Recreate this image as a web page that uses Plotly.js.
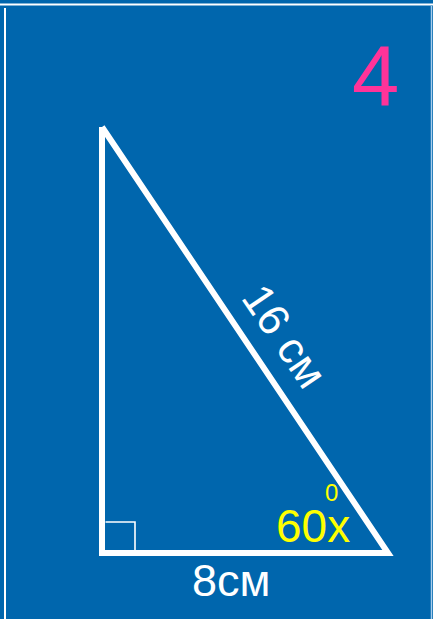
<!DOCTYPE html>
<html>
<head>
<meta charset="utf-8">
<script src="https://cdn.plot.ly/plotly-3.0.1.min.js"></script>
<style>
html,body{margin:0;padding:0;background:#0066AD;overflow:hidden}
#chart{width:433px;height:619px}
#chart path.js-line{stroke-linejoin:miter !important;stroke-miterlimit:10 !important}
</style>
</head>
<body>
<div id="chart"></div>
<script>
// Figure data (picture coordinates, y grows downward)
const triangleX = [102, 102, 388, 102];
const triangleY = [127, 553, 553, 127];
const rightAngleX = [105.5, 135, 135];
const rightAngleY = [522, 522, 550];
const labels = ["4", "16 см", "8см", "60x", "0"];
const labelX = [375, 285, 231, 313, 331];
const labelY = [75, 335, 580, 526, 492];

const traces = [
  {x: triangleX, y: triangleY, mode: 'lines', line: {color: '#ffffff', width: 6}, hoverinfo: 'skip'},
  {x: rightAngleX, y: rightAngleY, mode: 'lines', line: {color: '#ffffff', width: 1.6}, hoverinfo: 'skip'}
];

const fontFam = 'Liberation Sans, Arial, sans-serif';
const styles = [
  {size: 85, color: '#FF3399', angle: 0},
  {size: 44, color: '#ffffff', angle: 55.8},
  {size: 45, color: '#ffffff', angle: 0},
  {size: 46, color: '#FFFF00', angle: 0},
  {size: 24, color: '#FFFF00', angle: 0}
];
const annotations = labels.map((t, i) => ({
  text: t, x: labelX[i], y: labelY[i], xref: 'x', yref: 'y',
  showarrow: false, xanchor: 'center', yanchor: 'middle',
  textangle: styles[i].angle,
  font: {family: fontFam, size: styles[i].size, color: styles[i].color}
}));

const layout = {
  width: 433, height: 619,
  margin: {l: 0, r: 0, t: 0, b: 0},
  paper_bgcolor: '#0066AD', plot_bgcolor: '#0066AD',
  showlegend: false,
  xaxis: {range: [0, 433], visible: false, fixedrange: true},
  yaxis: {range: [619, 0], visible: false, fixedrange: true},
  annotations: annotations,
  shapes: [
    {type: 'line', xref: 'x', yref: 'y', x0: 0, x1: 433, y0: 4.5, y1: 4.5, line: {color: '#ffffff', width: 2}},
    {type: 'line', xref: 'x', yref: 'y', x0: 5, x1: 5, y0: 8, y1: 619, line: {color: '#ffffff', width: 2}},
    {type: 'line', xref: 'x', yref: 'y', x0: 431.5, x1: 431.5, y0: 6, y1: 619, line: {color: '#a8cdec', width: 1.5}}
  ]
};

Plotly.newPlot('chart', traces, layout, {staticPlot: true, displayModeBar: false}).then(function () {
  document.querySelectorAll('#chart path.js-line').forEach(function (p) {
    p.style.strokeLinejoin = 'miter';
    p.style.strokeMiterlimit = '10';
  });
});
</script>
</body>
</html>
